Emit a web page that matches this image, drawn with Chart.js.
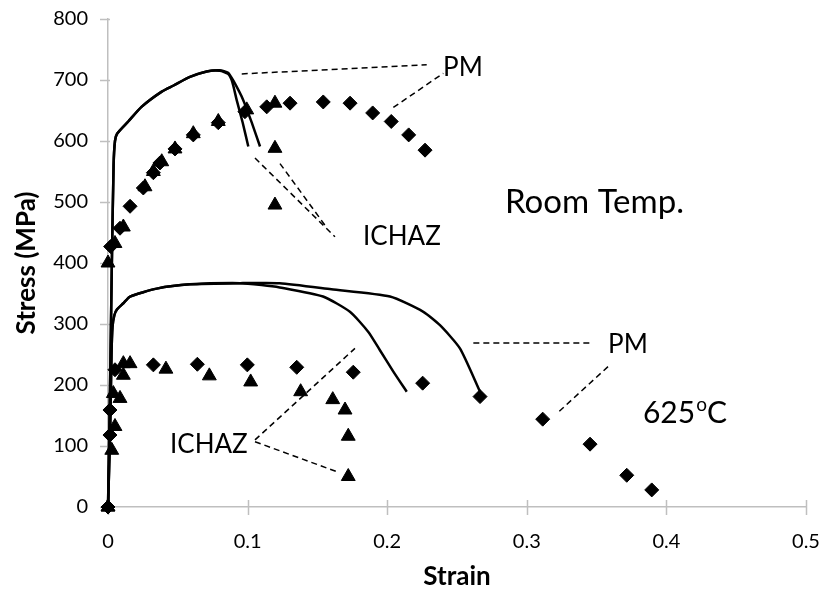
<!DOCTYPE html>
<html><head><meta charset="utf-8">
<script src="https://cdn.jsdelivr.net/npm/chart.js@4/dist/chart.umd.min.js"></script>
<style>html,body{margin:0;padding:0;background:#fff}</style>
</head><body>
<canvas id="c" width="823" height="593"></canvas>
<script>
// ---------- DATA ----------
const xTickValues = [0, 0.1, 0.2, 0.3, 0.4, 0.5];
const yTickValues = [0, 100, 200, 300, 400, 500, 600, 700, 800];

// Room temperature, PM (diamonds)
const rtPmStrain = [0, 0.0019, 0.0086, 0.0158, 0.0253, 0.0325, 0.0372, 0.048, 0.0611, 0.079, 0.0981, 0.1137, 0.1304, 0.1542, 0.1734, 0.1896, 0.2029, 0.2154, 0.2271];
const rtPmStress = [0, 427, 457, 493, 523, 548, 564, 587, 610, 630, 648, 656, 662, 664, 662, 646, 632, 610, 585];
// Room temperature, ICHAZ (triangles)
const rtHazStrain = [0, 0, 0.005, 0.011, 0.0265, 0.0325, 0.0385, 0.048, 0.0611, 0.079, 0.0994, 0.1196, 0.1196, 0.1196];
const rtHazStress = [0, 400, 432, 459, 525, 550, 566, 587, 612, 632, 651, 662, 588, 495];
// 625 C, PM (diamonds)
const htPmStrain = [0, 0.0014, 0.0014, 0.005, 0.0325, 0.064, 0.0998, 0.1352, 0.1757, 0.2254, 0.2665, 0.3114, 0.3453, 0.3716, 0.3895];
const htPmStress = [0, 118, 159, 225, 233, 234, 233, 229, 221, 203, 181, 144, 103, 52, 28];
// 625 C, ICHAZ (triangles)
const htHazStrain = [0, 0.0027, 0.005, 0.0038, 0.0086, 0.011, 0.011, 0.0158, 0.0415, 0.0726, 0.1022, 0.138, 0.161, 0.1698, 0.1721, 0.1721];
const htHazStress = [0, 93, 132, 186, 178, 216, 235, 235, 226, 215, 205, 189, 176, 159, 116, 50];

// Room temperature curves (solid)
const rtCurve1Strain = [0, 0.0015, 0.0027, 0.004, 0.005, 0.0065, 0.0145, 0.024, 0.0385, 0.047, 0.0587, 0.0707, 0.080, 0.086, 0.089, 0.0922, 0.0965, 0.1005];
const rtCurve1Stress = [0, 200, 390, 560, 600, 612, 632, 656, 681, 691, 705, 714, 715, 710, 697, 667, 630, 591];
const rtCurve2Strain = [0, 0.0015, 0.0027, 0.004, 0.005, 0.0065, 0.0145, 0.024, 0.0385, 0.047, 0.0587, 0.0707, 0.080, 0.086, 0.090, 0.0969, 0.103, 0.1089];
const rtCurve2Stress = [0, 200, 390, 560, 600, 612, 632, 656, 681, 691, 705, 714, 716, 712, 698, 667, 630, 591];
// 625 C curves (solid)
const htCurve1Strain = [0, 0.0015, 0.0025, 0.0032, 0.0045, 0.0065, 0.011, 0.0158, 0.0349, 0.0587, 0.0946, 0.123, 0.16, 0.202, 0.2259, 0.2378, 0.2521, 0.2665];
const htCurve1Stress = [0, 120, 250, 295, 314, 324, 334, 345, 358, 365, 367, 367, 357, 345, 320, 298, 260, 189];
const htCurve2Strain = [0, 0.0015, 0.0025, 0.0032, 0.0045, 0.0065, 0.011, 0.0158, 0.0349, 0.0587, 0.0946, 0.110, 0.123, 0.154, 0.1733, 0.1865, 0.1948, 0.2044, 0.214];
const htCurve2Stress = [0, 120, 250, 295, 314, 324, 334, 345, 358, 365, 367, 364, 360, 345, 320, 287, 257, 222, 189];

// Annotation texts (anchored at strain, stress)
const labelTexts = ['PM', 'ICHAZ', 'Room Temp.', 'PM', '625', 'ICHAZ'];
const labelStrain = [0.2400, 0.1827, 0.2844, 0.3582, 0.3832, 0.0444];
const labelStress = [707, 430, 482, 252, 138, 89];
// Leader lines (dashed), strain/stress pairs
const leaderFromStrain = [0.0958, 0.2044, 0.1053, 0.1232, 0.2617, 0.3233, 0.1053, 0.1053];
const leaderFromStress = [710, 655, 572, 563, 269, 157, 110, 107];
const leaderToStrain   = [0.2283, 0.2402, 0.1626, 0.1554, 0.3476, 0.3591, 0.1769, 0.1638];
const leaderToStress   = [725, 711, 443, 462, 269, 232, 260, 58];

// ---------- CHART ----------
const FONT = 'Lato, "Open Sans", sans-serif';
const AXIS_COLOR = '#BFBFBF';
const pts = (xs, ys) => xs.map((x, i) => ({x: x, y: ys[i]}));

function curve(xs, ys) {
  return { type: 'line', data: pts(xs, ys), showLine: true, borderColor: '#000', borderWidth: 2.5,
           pointRadius: 0, tension: 0.2, fill: false, order: 2, clip: false };
}
function markers(xs, ys, style, r) {
  return { type: 'scatter', data: pts(xs, ys), showLine: false, pointStyle: style, pointRadius: r,
           pointHoverRadius: r, backgroundColor: '#000', borderColor: '#000', borderWidth: 1, order: 1, clip: false };
}

const annotationPlugin = {
  id: 'annotations',
  beforeDatasetsDraw(chart) {
    const {ctx, chartArea, scales: {x, y}} = chart;
    ctx.save();
    ctx.strokeStyle = AXIS_COLOR; ctx.lineWidth = 1.5;
    ctx.beginPath();
    xTickValues.forEach(v => { const px = Math.round(x.getPixelForValue(v)) + 0.5;
      ctx.moveTo(px, chartArea.bottom - 7); ctx.lineTo(px, chartArea.bottom + 8); });
    yTickValues.forEach(v => { const py = Math.round(y.getPixelForValue(v)) + 0.5;
      ctx.moveTo(chartArea.left - 8, py); ctx.lineTo(chartArea.left + 2, py); });
    ctx.stroke();
    ctx.restore();
  },
  afterDatasetsDraw(chart) {
    const {ctx, scales: {x, y}} = chart;
    ctx.save();
    ctx.strokeStyle = '#000'; ctx.lineWidth = 1.5; ctx.setLineDash([6, 4]);
    leaderFromStrain.forEach((s, i) => {
      ctx.beginPath();
      ctx.moveTo(x.getPixelForValue(s), y.getPixelForValue(leaderFromStress[i]));
      ctx.lineTo(x.getPixelForValue(leaderToStrain[i]), y.getPixelForValue(leaderToStress[i]));
      ctx.stroke();
    });
    ctx.setLineDash([]);
    ctx.fillStyle = '#000'; ctx.textBaseline = 'alphabetic'; ctx.textAlign = 'left';
    const sizes = [26, 26, 33, 26, 30, 26];
    labelTexts.forEach((t, i) => {
      const px = x.getPixelForValue(labelStrain[i]), py = y.getPixelForValue(labelStress[i]);
      ctx.font = sizes[i] + 'px ' + FONT;
      ctx.fillText(t, px, py);
      if (t === '625') {
        const w = ctx.measureText(t).width;
        ctx.font = '19px ' + FONT;
        ctx.fillText('o', px + w + 1, py - 12);
        const w2 = ctx.measureText('o').width;
        ctx.font = sizes[i] + 'px ' + FONT;
        ctx.fillText('C', px + w + w2 + 1, py);
      }
    });
    ctx.restore();
  }
};

new Chart(document.getElementById('c'), {
  type: 'scatter',
  data: { datasets: [
    curve(rtCurve1Strain, rtCurve1Stress),
    curve(rtCurve2Strain, rtCurve2Stress),
    curve(htCurve1Strain, htCurve1Stress),
    curve(htCurve2Strain, htCurve2Stress),
    markers(rtPmStrain, rtPmStress, 'rectRot', 7),
    markers(rtHazStrain, rtHazStress, 'triangle', 8),
    markers(htPmStrain, htPmStress, 'rectRot', 7),
    markers(htHazStrain, htHazStress, 'triangle', 8)
  ]},
  options: {
    responsive: false, animation: false, devicePixelRatio: 1,
    layout: { padding: { top: 19, right: 17, left: 0, bottom: 0 } },
    plugins: { legend: { display: false }, tooltip: { enabled: false } },
    scales: {
      x: {
        type: 'linear', min: 0, max: 0.5,
        afterBuildTicks: s => { s.ticks = xTickValues.map(v => ({value: v})); },
        afterFit: s => { s.height = 86; s.paddingLeft = 0; s.paddingRight = 0; },
        grid: { display: true, drawOnChartArea: false, drawTicks: false },
        border: { display: true, color: AXIS_COLOR, width: 1.5 },
        ticks: { color: '#000', font: { family: FONT, size: 20 }, padding: 23, maxRotation: 0,
                 callback: v => String(+v.toFixed(1)) },
        title: { display: true, text: 'Strain', color: '#000', font: { family: FONT, size: 26, weight: 'bold' }, padding: { top: 0, bottom: 1 } }
      },
      y: {
        type: 'linear', min: 0, max: 800,
        afterBuildTicks: s => { s.ticks = yTickValues.map(v => ({value: v})); },
        afterFit: s => { s.width = 108; s.paddingTop = 0; s.paddingBottom = 0; },
        grid: { display: true, drawOnChartArea: false, drawTicks: false },
        border: { display: true, color: AXIS_COLOR, width: 1.5 },
        ticks: { color: '#000', font: { family: FONT, size: 20 }, padding: 20 },
        title: { display: true, text: 'Stress (MPa)', color: '#000', font: { family: FONT, size: 26, weight: 'bold' }, padding: { top: 11, bottom: 0 } }
      }
    }
  },
  plugins: [annotationPlugin]
});
</script>
</body></html>
